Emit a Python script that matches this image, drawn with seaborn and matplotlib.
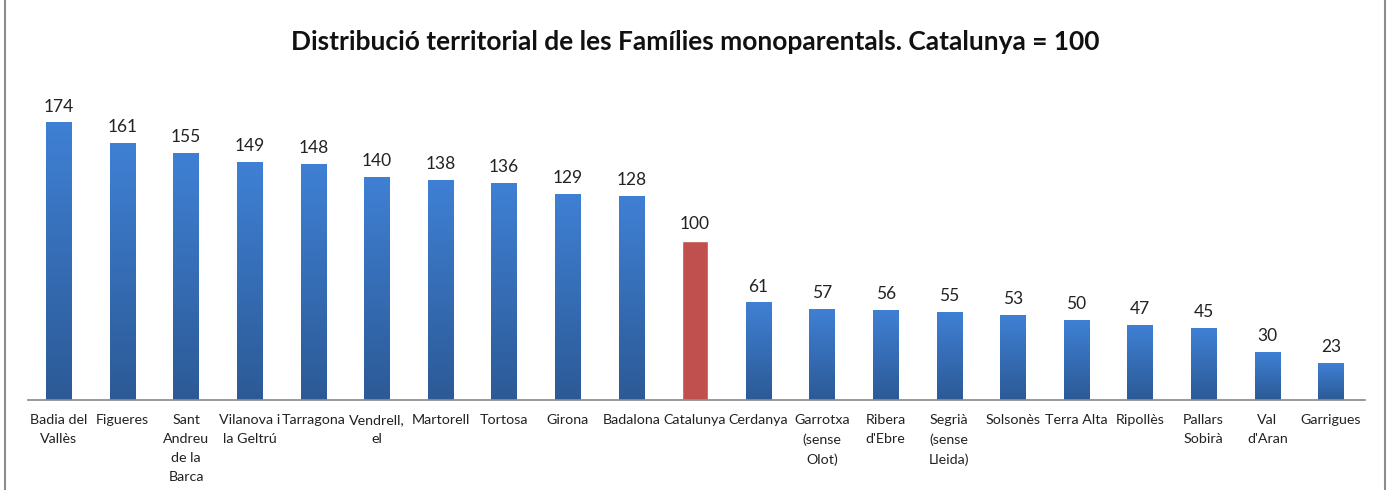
import numpy as np
import seaborn as sns
import matplotlib.pyplot as plt
from matplotlib.lines import Line2D

# dades
territoris = ["Badia del\nVallès", "Figueres", "Sant\nAndreu\nde la\nBarca", "Vilanova i\nla Geltrú",
              "Tarragona", "Vendrell,\nel", "Martorell", "Tortosa", "Girona", "Badalona",
              "Catalunya", "Cerdanya", "Garrotxa\n(sense\nOlot)", "Ribera\nd'Ebre",
              "Segrià\n(sense\nLleida)", "Solsonès", "Terra Alta", "Ripollès", "Pallars\nSobirà",
              "Val\nd'Aran", "Garrigues"]
valors = [174, 161, 155, 149, 148, 140, 138, 136, 129, 128, 100, 61, 57, 56, 55, 53, 50, 47, 45, 30, 23]
referencia = "Catalunya"

blau = "#3a78c8"
vermell = "#c0504d"
colors = [vermell if t == referencia else blau for t in territoris]

sns.set_theme(style="white")
plt.rcParams['font.family'] = ['Lato', 'DejaVu Sans']

fig = plt.figure(figsize=(13.91, 4.9), dpi=100)
ax = fig.add_axes([0.020, 0.1837, 0.961, 0.6327])

sns.barplot(x=territoris, y=valors, hue=territoris, palette=colors, legend=False,
            width=0.4, saturation=1, ax=ax)

# degradat dels blaus (com l'Excel)
grad = np.linspace(0, 1, 100).reshape(-1, 1)
cmap = sns.blend_palette(["#2c5a96", "#3f80d4"], as_cmap=True)
for patch, t in zip(ax.patches, territoris):
    if t == referencia:
        continue
    x0, y0 = patch.get_x(), patch.get_y()
    w, h = patch.get_width(), patch.get_height()
    ax.imshow(grad, extent=[x0, x0 + w, y0, y0 + h], origin="lower", cmap=cmap,
              aspect="auto", zorder=patch.get_zorder() + 0.1)

for cont in ax.containers:
    ax.bar_label(cont, fontsize=12.5, padding=6, color="#222222")

ax.set_xlim(-0.49, 20.53)
ax.set_ylim(0, 194.7)
ax.set_yticks([])
ax.set_xlabel("")
ax.set_ylabel("")
ax.tick_params(axis="x", length=0, pad=10, labelsize=10.3, colors="#222222")
for lab in ax.get_xticklabels():
    lab.set_linespacing(1.7)
    lab.set_verticalalignment("top")
sns.despine(ax=ax, left=True)
ax.spines["bottom"].set_color("#8c8c8c")

fig.text(0.5, 0.914, "Distribució territorial de les Famílies monoparentals. Catalunya = 100",
         fontsize=19, fontweight="bold", ha="center", va="center", color="#111111")

# vores del gràfic
fig.add_artist(Line2D([5 / 1391, 5 / 1391], [0, 1], color="#8c8c8c", lw=1.5))
fig.add_artist(Line2D([1385 / 1391, 1385 / 1391], [0, 1], color="#8c8c8c", lw=1.5))

fig.savefig("out.png", dpi=100)
